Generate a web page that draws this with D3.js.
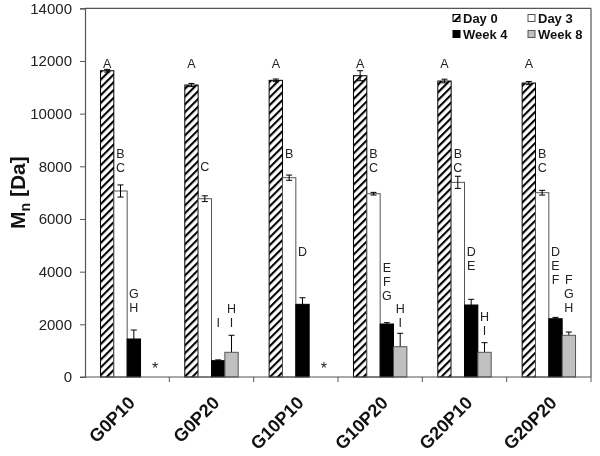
<!DOCTYPE html>
<html>
<head>
<meta charset="utf-8">
<script src="https://cdn.jsdelivr.net/npm/d3@7"></script>
<style>
  html, body { margin: 0; padding: 0; background: #fff; }
  svg { display: block; font-family: "Liberation Sans", Arial, sans-serif; will-change: transform; }
</style>
</head>
<body>
<svg id="chart" width="600" height="456"></svg>
<script>
// ---- data ----
const categories = ["G0P10", "G0P20", "G10P10", "G10P20", "G20P10", "G20P20"];
const seriesNames = ["Day 0", "Day 3", "Week 4", "Week 8"];

const day0  = [11630, 11087, 11265, 11440, 11238, 11162];
const day3  = [7063, 6770, 7568, 6960, 7392, 6998];
const week4 = [1443, 620, 2760, 2012, 2734, 2213];
const week8 = [null, 938, null, 1150, 938, 1583];

const day0Err  = [50, 60, 50, 190, 70, 60];
const day3Err  = [230, 110, 100, 50, 230, 90];
const week4Err = [340, 30, 250, 50, 215, 50];
const week8Err = [0, 645, 0, 510, 365, 125];

const day0Letters  = ["A", "A", "A", "A", "A", "A"];
const day3Letters  = ["BC", "C", "B", "BC", "BC", "BC"];
const week4Letters = ["GH", "I", "D", "EFG", "DE", "DEF"];
const week8Letters = ["*", "HI", "*", "HI", "HI", "FGH"];

// value (Da) at which the first letter of each label sits
const day0LabelAt  = [11900, 11900, 11900, 11900, 11900, 11900];
const day3LabelAt  = [8500, 8000, 8500, 8500, 8500, 8500];
const week4LabelAt = [3150, 2050, 4750, 4140, 4750, 4750];
const week8LabelAt = [456, 2580, 456, 2580, 2280, 3680];

const yTicks = [0, 2000, 4000, 6000, 8000, 10000, 12000, 14000];

// ---- build ----
const values  = [day0, day3, week4, week8];
const errs    = [day0Err, day3Err, week4Err, week8Err];
const letters = [day0Letters, day3Letters, week4Letters, week8Letters];
const labelAt = [day0LabelAt, day3LabelAt, week4LabelAt, week8LabelAt];

const svg = d3.select("#chart");
const W = 600, H = 456;
const m = { left: 85, right: 9, top: 8.3, bottom: 79 };
const plotL = m.left, plotR = W - m.right, plotT = m.top, plotB = H - m.bottom;

const y = d3.scaleLinear().domain([0, 14000]).range([plotB, plotT]);
const x0 = d3.scaleBand().domain(categories).range([plotL, plotR]).padding(0);
const x1 = d3.scaleBand().domain(seriesNames).range([0, x0.bandwidth()])
  .paddingInner(0).paddingOuter(1.16);

// pattern
const defs = svg.append("defs");
const pat = defs.append("pattern").attr("id", "hatch")
  .attr("patternUnits", "userSpaceOnUse").attr("width", 5.5).attr("height", 5.5)
  .attr("patternTransform", "rotate(45)");
pat.append("rect").attr("width", 5.5).attr("height", 5.5).attr("fill", "#fff");
pat.append("line").attr("x1", 1).attr("y1", 0).attr("x2", 1).attr("y2", 5.5)
  .attr("stroke", "#000").attr("stroke-width", 2.2);

const fills   = ["url(#hatch)", "#ffffff", "#000000", "#c0c0c0"];
const strokes = ["#000000", "#555555", "#000000", "#555555"];

// frame (top and right)
svg.append("line").attr("x1", plotL).attr("x2", plotR).attr("y1", plotT).attr("y2", plotT)
  .attr("stroke", "#555").attr("stroke-width", 1.2);
svg.append("line").attr("x1", plotR).attr("x2", plotR).attr("y1", plotT).attr("y2", plotB)
  .attr("stroke", "#555").attr("stroke-width", 1.2);

// rows of data
const rows = [];
categories.forEach((c, i) => {
  seriesNames.forEach((s, j) => {
    rows.push({ cat: c, ser: s, j, v: values[j][i], e: errs[j][i],
                lab: letters[j][i], at: labelAt[j][i] });
  });
});

function drawBars(sel) {
  sel.append("rect")
    .attr("x", d => x0(d.cat) + x1(d.ser))
    .attr("y", d => y(d.v))
    .attr("width", x1.bandwidth())
    .attr("height", d => y(0) - y(d.v))
    .attr("fill", d => fills[d.j])
    .attr("stroke", d => strokes[d.j])
    .attr("stroke-width", 1);
}
function drawErr(sel) {
  sel.each(function(d) {
    const g = d3.select(this);
    const cx = x0(d.cat) + x1(d.ser) + x1.bandwidth() / 2;
    const cw = 3;
    g.append("line").attr("x1", cx).attr("x2", cx)
      .attr("y1", y(d.v - d.e)).attr("y2", y(d.v + d.e)).attr("stroke", "#000");
    g.append("line").attr("x1", cx - cw).attr("x2", cx + cw)
      .attr("y1", y(d.v + d.e)).attr("y2", y(d.v + d.e)).attr("stroke", "#000");
    g.append("line").attr("x1", cx - cw).attr("x2", cx + cw)
      .attr("y1", y(d.v - d.e)).attr("y2", y(d.v - d.e)).attr("stroke", "#000");
  });
}

const withVal = rows.filter(d => d.v != null);
drawBars(svg.append("g").selectAll("g").data(withVal.filter(d => d.j < 2)).join("g"));
drawErr(svg.append("g").selectAll("g").data(withVal).join("g"));
drawBars(svg.append("g").selectAll("g").data(withVal.filter(d => d.j >= 2)).join("g"));

// letters
const lab = svg.append("g").attr("fill", "#222");
rows.forEach(d => {
  const cx = x0(d.cat) + x1(d.ser) + x1.bandwidth() / 2;
  const cy = y(d.at);
  if (d.lab === "*") {
    lab.append("text").attr("x", cx + 8).attr("y", cy + 9.3)
      .attr("text-anchor", "middle").attr("font-size", 16).text("*");
  } else {
    d.lab.split("").forEach((ch, k) => {
      lab.append("text").attr("x", cx).attr("y", cy + k * 14 + 4.4)
        .attr("text-anchor", "middle").attr("font-size", 12.5).text(ch);
    });
  }
});

// y axis
const yAxis = d3.axisLeft(y).tickValues(yTicks).tickSize(5).tickPadding(8)
  .tickFormat(d3.format("d"));
const ya = svg.append("g").attr("transform", `translate(${plotL},0)`).call(yAxis);
ya.select(".domain").attr("stroke", "#555").attr("stroke-width", 1.2);
ya.selectAll(".tick line").attr("stroke", "#555");
ya.selectAll(".tick text").attr("font-size", 15).attr("fill", "#222")
  .attr("font-family", "Liberation Sans, Arial, sans-serif");

// x axis line + boundary ticks
const xa = svg.append("g");
xa.append("line").attr("x1", plotL - 5).attr("x2", plotR).attr("y1", plotB).attr("y2", plotB)
  .attr("stroke", "#555").attr("stroke-width", 1.2);
categories.forEach(c => {
  const bx = x0(c) + x0.bandwidth();
  xa.append("line").attr("x1", bx).attr("x2", bx).attr("y1", plotB).attr("y2", plotB + 5)
    .attr("stroke", "#555");
});
const k45 = Math.SQRT1_2;
categories.forEach(c => {
  const cx = x0(c) + x0.bandwidth() / 2;
  xa.append("text")
    .attr("transform", `matrix(${k45},${-k45},${k45},${k45},${cx + 9},${plotB + 27})`)
    .attr("text-anchor", "end").attr("font-size", 18).attr("font-weight", "bold")
    .attr("fill", "#111").text(c);
});

// y title
const yt = svg.append("text")
  .attr("transform", `translate(25,${(plotT + plotB) / 2}) rotate(-90)`)
  .attr("text-anchor", "middle").attr("font-size", 21).attr("font-weight", "bold")
  .attr("fill", "#111");
yt.append("tspan").text("M");
yt.append("tspan").attr("font-size", 14).attr("dy", 5).text("n");
yt.append("tspan").attr("dy", -5).text(" [Da]");

// legend
const legX = [453, 528], legY = [18, 34];
const lg = svg.append("g");
seriesNames.forEach((s, j) => {
  const lx = legX[j % 2], ly = legY[Math.floor(j / 2)];
  lg.append("rect").attr("x", lx).attr("y", ly - 3.5).attr("width", 7).attr("height", 7)
    .attr("fill", fills[j]).attr("stroke", strokes[j]);
  lg.append("text").attr("x", lx + 10).attr("y", ly + 5)
    .attr("font-size", 13).attr("font-weight", "bold").attr("fill", "#111").text(s);
});
</script>
</body>
</html>
